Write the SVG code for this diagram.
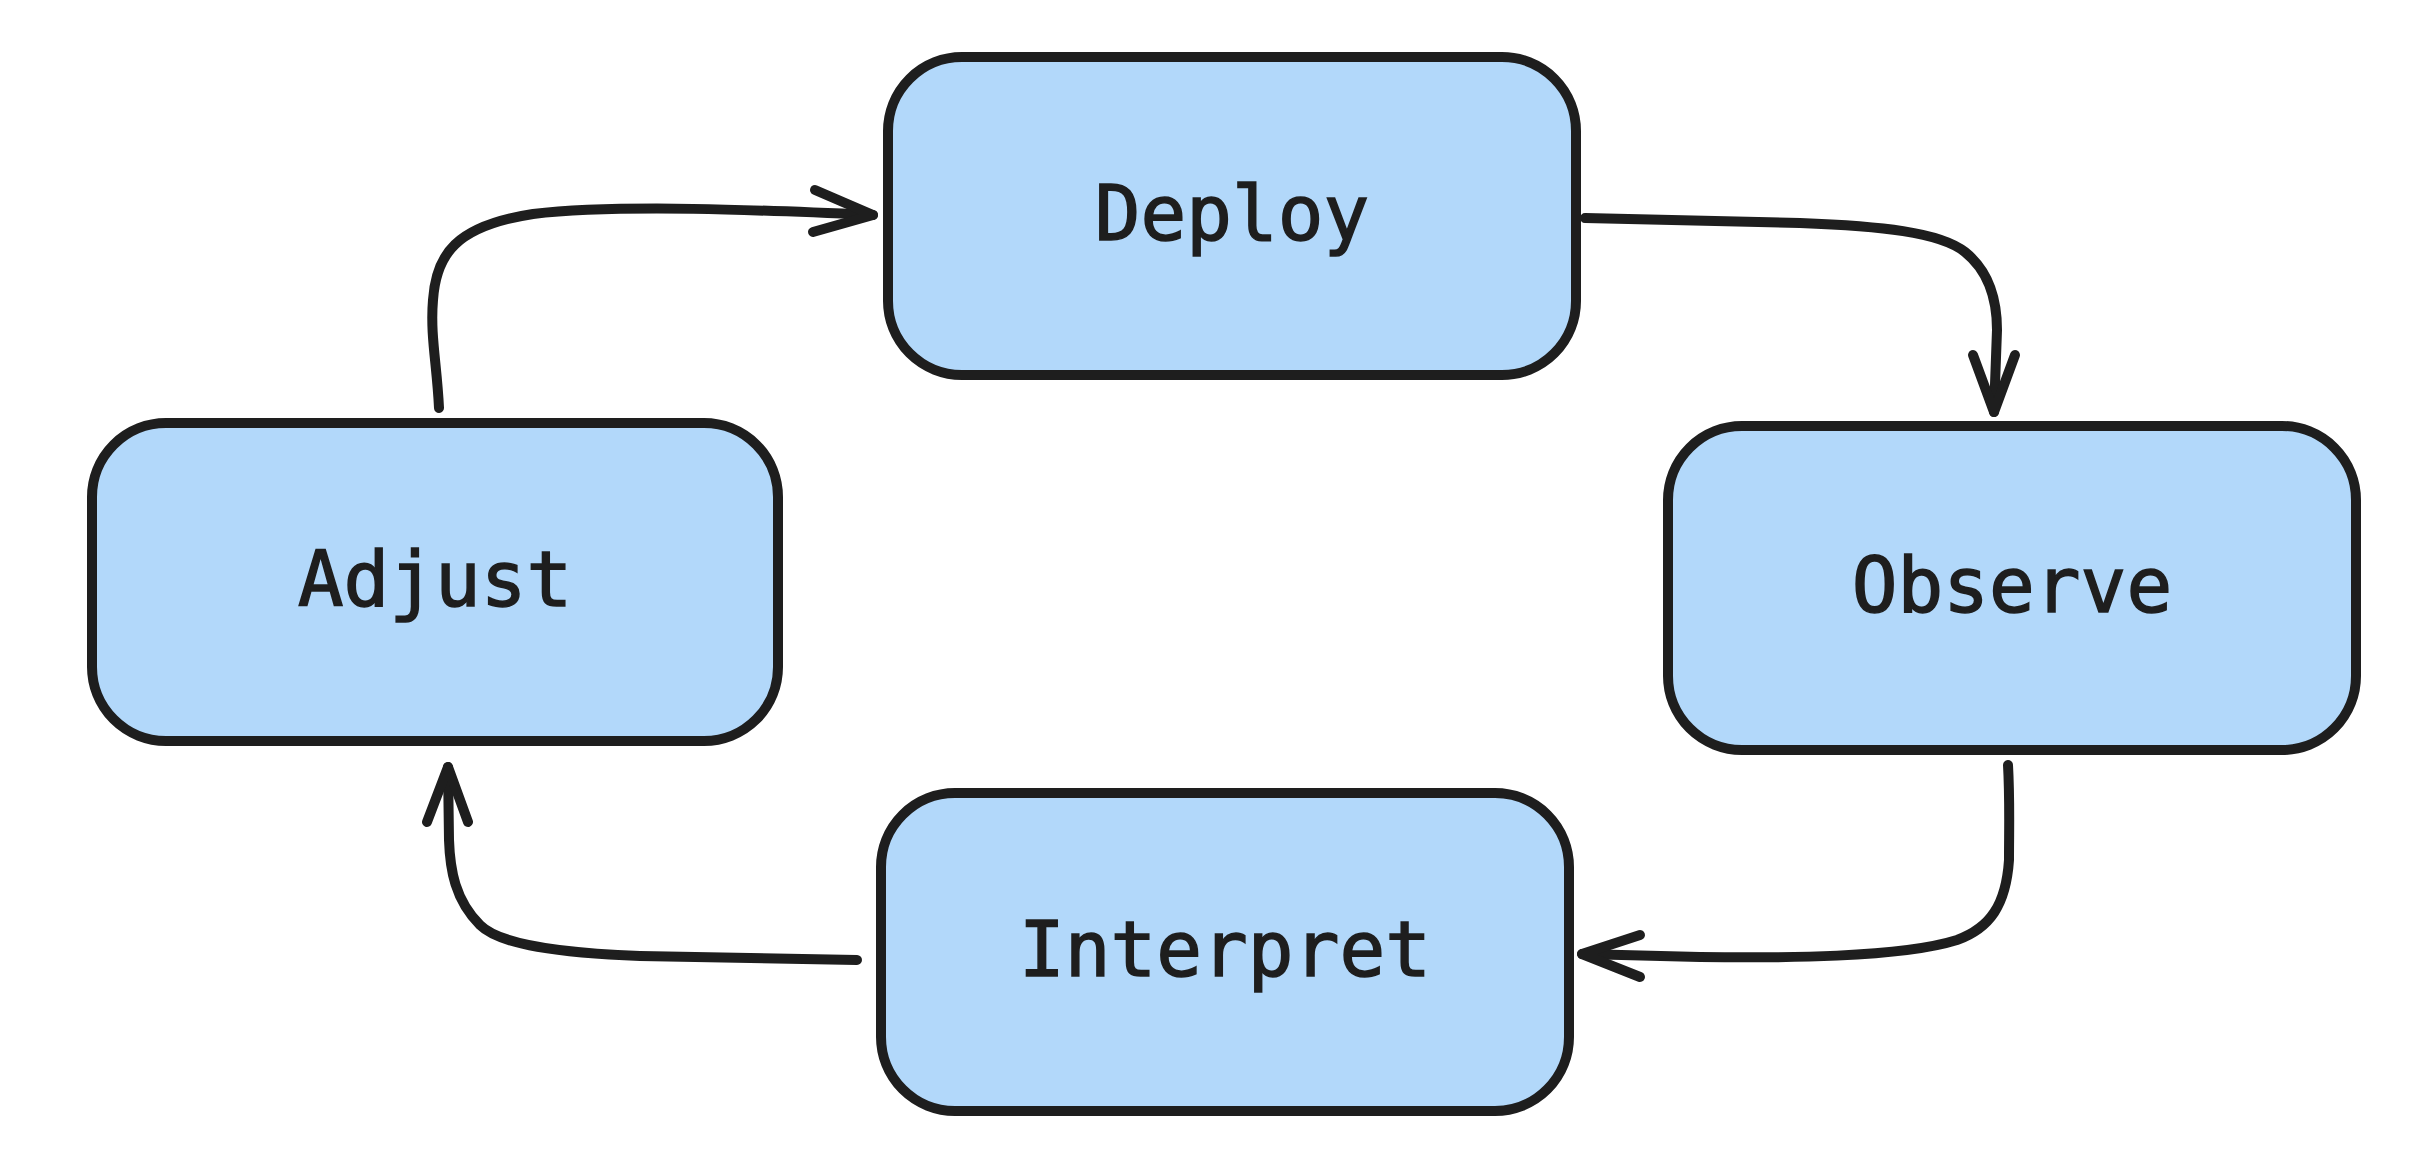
<svg xmlns="http://www.w3.org/2000/svg" width="2434" height="1164" viewBox="0 0 2434 1164">
<style>
.box{fill:#b2d8fa;stroke:#1e1e1e;stroke-width:10;stroke-linejoin:round}
.lbl{font-family:"DejaVu Sans Mono","Liberation Mono",monospace;font-size:76px;fill:#1e1e1e;stroke:#1e1e1e;stroke-width:1.5;text-anchor:middle}
.con{fill:none;stroke:#1e1e1e;stroke-width:10;stroke-linecap:round;stroke-linejoin:round}
</style>
<rect width="2434" height="1164" fill="#ffffff"/>
<g id="connectors">
<g id="adjust-deploy">
<path class="con" d="M439,408 C437,365 430,335 433,300 C436,255 455,226 533,214 C620,204 760,210 873,215"/>
<path class="con" d="M815,190 L873,215 L813,232"/>
</g>
<g id="deploy-observe">
<path class="con" d="M1585,218 L1800,223 C1880,226 1940,232 1965,252 C1990,272 1997,300 1997,330 L1994,412"/>
<path class="con" d="M1973,355 L1994,412 L2015,355"/>
</g>
<g id="observe-interpret">
<path class="con" d="M2008,765 C2010,800 2009,830 2009,860 C2006,905 1990,928 1957,940 C1900,958 1780,958 1700,957 L1582,954"/>
<path class="con" d="M1640,935 L1582,954 L1640,977"/>
</g>
<g id="interpret-adjust">
<path class="con" d="M857,960 L640,956 C560,953 500,945 480,925 C455,900 450,870 449,840 L448,767"/>
<path class="con" d="M427,822 L448,767 L468,822"/>
</g>
</g>
<g id="node-deploy">
<rect class="box" x="888" y="57" width="688" height="318" rx="74"/>
<text class="lbl" x="1232" y="240">Deploy</text>
</g>
<g id="node-observe">
<rect class="box" x="1668" y="426" width="688" height="324" rx="74"/>
<text class="lbl" x="2012" y="612">Observe</text>
</g>
<g id="node-interpret">
<rect class="box" x="881" y="793" width="688" height="318" rx="74"/>
<text class="lbl" x="1225" y="976">Interpret</text>
</g>
<g id="node-adjust">
<rect class="box" x="92" y="423" width="686" height="318" rx="74"/>
<text class="lbl" x="435" y="606">Adjust</text>
</g>
</svg>
